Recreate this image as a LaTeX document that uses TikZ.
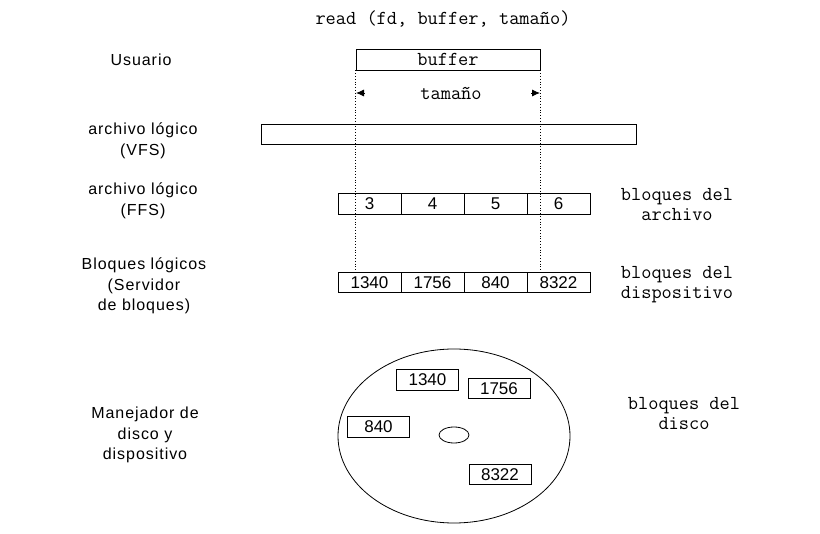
\documentclass[tikz,border=0pt]{standalone}
\usepackage{fontspec}
\setmainfont{Liberation Sans}
\usetikzlibrary{arrows.meta,shapes.geometric}
\begin{document}
\begin{tikzpicture}[x=1pt,y=-1pt,line width=0.8pt,
  lbl/.style={font=\fontsize{16}{20.5}\selectfont\addfontfeature{LetterSpace=6},align=center,inner sep=0},
  mono/.style={font=\ttfamily\fontsize{19.8}{19.5}\selectfont,align=center,inner sep=0},
  cell/.style={draw,minimum width=63,minimum height=20.5,inner sep=0,font=\fontsize{17}{20}\selectfont},
  dblk/.style={draw,minimum width=62,minimum height=20.5,inner sep=0,font=\fontsize{17}{20}\selectfont},
  guide/.style={dotted,line width=0.8pt},
  tip/.style={-{Latex[length=8,width=7]}}]
\useasboundingbox (0,0) rectangle (820,534);
% title
\node[mono] (title) at (443,19) {read (fd, buffer, tamaño)};
% left labels
\node[lbl] (usr) at (141,60) {Usuario};
\node[lbl] (vfsl) at (143,141) {archivo lógico\\(VFS)};
\node[lbl] (ffsl) at (143,201) {archivo lógico\\(FFS)};
\node[lbl] (bll) at (144,286) {Bloques lógicos\\(Servidor\\de bloques)};
\node[lbl] (mdl) at (145,435) {Manejador de\\disco y\\dispositivo};
% buffer
\node[draw,minimum width=184,minimum height=21,inner sep=0,mono] (buf) at (448,59.5) {buffer};
\node[mono] (tam) at (451,93) {tamaño};
\coordinate (tl) at (356,93);
\coordinate (tr) at (540,93);
\draw[tip] ([xshift=9]tl) -- (tl);
\draw[tip] ([xshift=-9]tr) -- (tr);
% VFS bar
\node[draw,minimum width=375,minimum height=20,inner sep=0] (vfs) at (448.5,134) {};
% FFS row
\node[cell] (f1) at (369.5,204) {3};
\node[cell] (f2) at (432.5,204) {4};
\node[cell] (f3) at (495.5,204) {5};
\node[cell] (f4) at (558.5,204) {6};
\node[mono] (fr) at (677,204.5) {bloques del\\archivo};
% block row
\node[cell] (b1) at (369.5,282.5) {1340};
\node[cell] (b2) at (432.5,282.5) {1756};
\node[cell] (b3) at (495.5,282.5) {840};
\node[cell] (b4) at (558.5,282.5) {8322};
\node[mono] (br) at (677,284.5) {bloques del\\dispositivo};
% dotted guides
\draw[guide] (buf.south west) -- (buf.south west |- b1.north);
\draw[guide] (buf.south east) -- (buf.south east |- b1.north);
% disk
\node[draw,ellipse,minimum width=232,minimum height=174,inner sep=0] (disk) at (454,436) {};
\node[draw,ellipse,minimum width=30,minimum height=16,inner sep=0] (hole) at (454,435) {};
\node[dblk] (d1) at (427.5,380) {1340};
\node[dblk] (d2) at (499,388.5) {1756};
\node[dblk] (d3) at (378.5,427) {840};
\node[dblk] (d4) at (500,474.5) {8322};
\node[mono] (dr) at (684,413.5) {bloques del\\disco};
\end{tikzpicture}
\end{document}
